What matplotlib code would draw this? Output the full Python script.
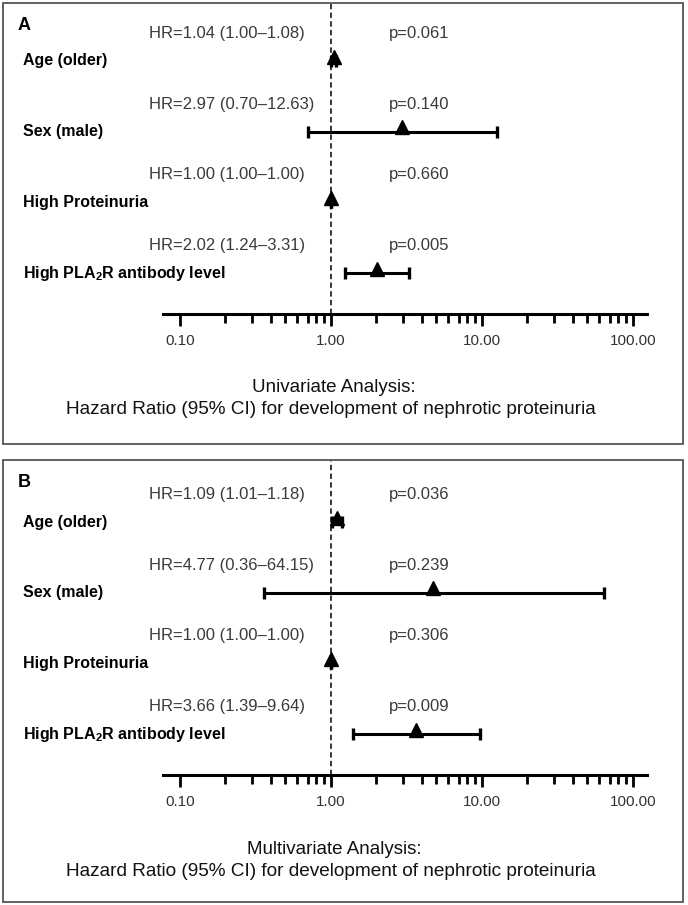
import numpy as np
import matplotlib
matplotlib.use("Agg")
import matplotlib.pyplot as plt
from matplotlib.patches import Rectangle
from matplotlib.ticker import FixedLocator, NullFormatter
import matplotlib.transforms as mtransforms

plt.rcParams['font.family'] = ['Liberation Sans', 'DejaVu Sans']
plt.rcParams['mathtext.fontset'] = 'custom'
plt.rcParams['mathtext.rm'] = 'Liberation Sans'
plt.rcParams['mathtext.bf'] = 'Liberation Sans:bold'

# data
labels = ["Age (older)", "Sex (male)", "High Proteinuria",
          r"High PLA$_{\mathbf{2}}$R antibody level"]

uni_hr = [1.04, 2.97, 1.00, 2.02]
uni_lo = [1.00, 0.70, 1.00, 1.24]
uni_hi = [1.08, 12.63, 1.00, 3.31]
uni_p = ["0.061", "0.140", "0.660", "0.005"]

multi_hr = [1.09, 4.77, 1.00, 3.66]
multi_lo = [1.01, 0.36, 1.00, 1.39]
multi_hi = [1.18, 64.15, 1.00, 9.64]
multi_p = ["0.036", "0.239", "0.306", "0.009"]

major_ticks = [0.1, 1, 10, 100]
tick_labels = ["0.10", "1.00", "10.00", "100.00"]
minor_ticks = [m * d for d in (0.1, 1, 10) for m in range(2, 10)]

W, H = 688, 905
fig = plt.figure(figsize=(W / 100, H / 100), dpi=100)
fig.patch.set_facecolor("white")


def fx(px):
    return px / W


def fy(py):
    return 1 - py / H


def draw_panel(letter, box, axis_y, first_row, hr, lo, hi, pvals, title):
    x0, y0, x1, y1 = box
    step = 70.7
    # frame around the panel
    fig.add_artist(Rectangle((fx(x0), fy(y1)), fx(x1 - x0), (y1 - y0) / H,
                             transform=fig.transFigure, fill=False,
                             edgecolor="#555555", lw=1.3))

    ax = fig.add_axes([fx(163), fy(axis_y), fx(647 - 163), (axis_y - y0 - 1) / H])
    ax.set_xscale("log")
    ax.set_xlim(0.0772, 124)
    ax.set_ylim((axis_y - first_row) / step, (y0 + 1 - first_row) / step)
    ax.patch.set_alpha(0)

    for s in ["left", "top", "right"]:
        ax.spines[s].set_visible(False)
    ax.spines["bottom"].set_linewidth(2.2)
    ax.yaxis.set_visible(False)

    ax.xaxis.set_major_locator(FixedLocator(major_ticks))
    ax.set_xticklabels(tick_labels, fontsize=11, color="#333333")
    ax.xaxis.set_minor_locator(FixedLocator(minor_ticks))
    ax.xaxis.set_minor_formatter(NullFormatter())
    ax.tick_params(axis="x", which="major", length=8.5, width=2.0, pad=6)
    ax.tick_params(axis="x", which="minor", length=6.3, width=2.0)

    # reference line at HR = 1
    ax.axvline(1.0, color="black", lw=1.1, ls=(0, (3.5, 2.2)), zorder=1)

    rows = np.arange(len(hr))
    hr = np.array(hr)
    err = [hr - np.array(lo), np.array(hi) - hr]
    ax.errorbar(hr, rows, xerr=err, fmt="none", ecolor="black",
                elinewidth=2.2, capsize=4.5, capthick=2.4, zorder=3)
    ax.plot(hr, rows - 0.06, ls="none", marker="^", ms=9.5,
            color="black", zorder=4, clip_on=False)

    tr = mtransforms.blended_transform_factory(fig.transFigure, ax.transData)
    for i, lab in enumerate(labels):
        ax.text(fx(23), i, lab, transform=tr, ha="left", va="center",
                fontsize=11.5, fontweight="bold", color="black")
        ax.text(fx(149), i - 0.39, "HR=%.2f (%.2f\u2013%.2f)" % (hr[i], lo[i], hi[i]),
                transform=tr, ha="left", va="center", fontsize=12, color="#3a3a3a")
        ax.text(fx(389), i - 0.39, "p=" + pvals[i], transform=tr,
                ha="left", va="center", fontsize=12, color="#3a3a3a")

    fig.text(fx(18), fy(y0 + 22), letter, ha="left", va="center",
             fontsize=13, fontweight="bold")
    fig.text(fx(334), fy(axis_y + 74), title, ha="center", va="center",
             fontsize=13.5, color="#111111")
    fig.text(fx(331), fy(axis_y + 96),
             "Hazard Ratio (95% CI) for development of nephrotic proteinuria",
             ha="center", va="center", fontsize=13.7, color="#111111")


draw_panel("A", (3, 3, 683, 444), 314, 61, uni_hr, uni_lo, uni_hi, uni_p,
           "Univariate Analysis:")
draw_panel("B", (3, 460, 683, 902), 775, 522, multi_hr, multi_lo, multi_hi, multi_p,
           "Multivariate Analysis:")

fig.savefig("out.png", dpi=100, facecolor="white")
